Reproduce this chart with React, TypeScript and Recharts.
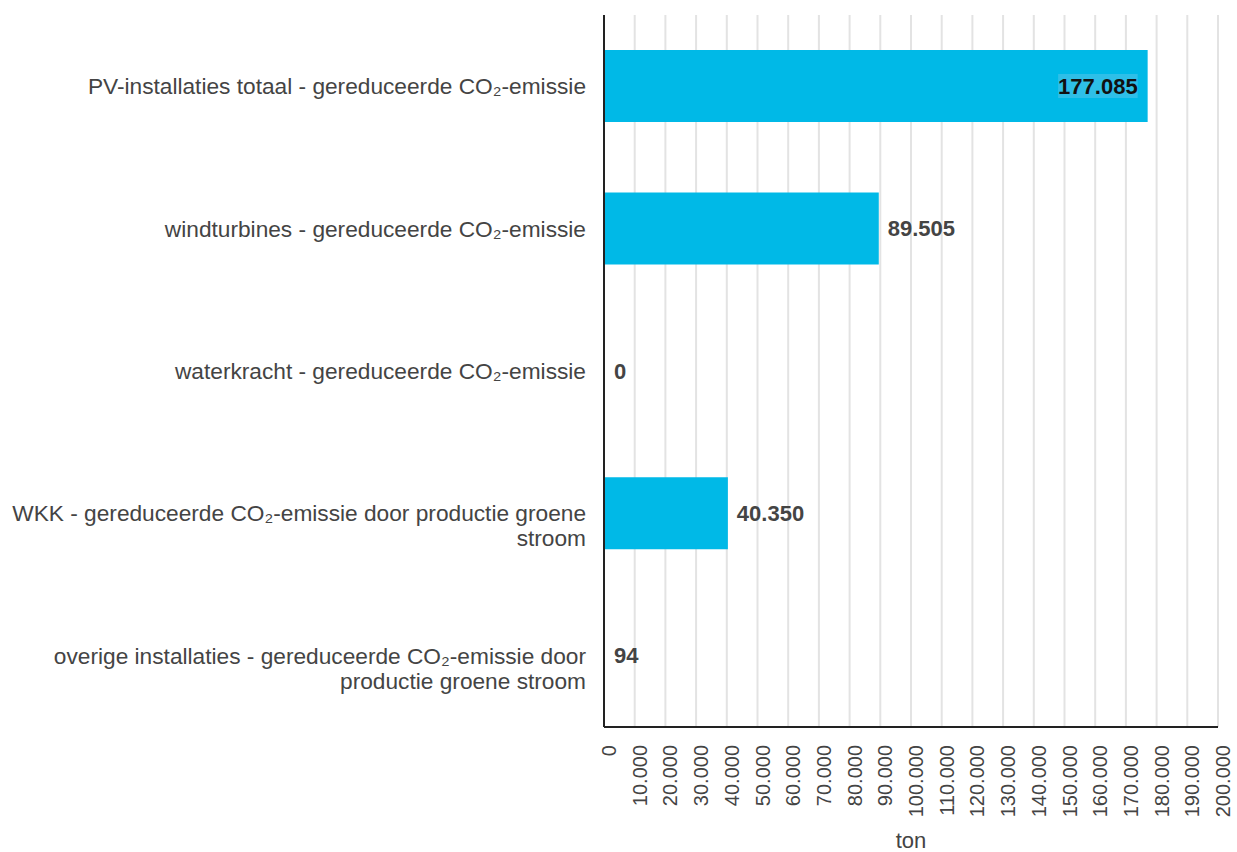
import React from 'react'
import {
  BarChart,
  Bar,
  XAxis,
  YAxis,
  CartesianGrid,
  LabelList,
} from 'recharts'

// categorieën en waarden (ton CO2)
const categories = [
  'PV-installaties totaal - gereduceerde CO₂-emissie',
  'windturbines - gereduceerde CO₂-emissie',
  'waterkracht - gereduceerde CO₂-emissie',
  'WKK - gereduceerde CO₂-emissie door productie groene stroom',
  'overige installaties - gereduceerde CO₂-emissie door productie groene stroom',
]
const values = [177085, 89505, 0, 40350, 94]
const xTicks = [
  0, 10000, 20000, 30000, 40000, 50000, 60000, 70000, 80000, 90000, 100000,
  110000, 120000, 130000, 140000, 150000, 160000, 170000, 180000, 190000, 200000,
]

const data = categories.map((name, i) => ({ name, value: values[i] }))

const FONT = '"Liberation Sans", Arial, sans-serif'
const TEXT = '#444444'
const BAR = '#00b9e7'
const CAT_SIZE = 22.7

const fmt = (v: number) => String(v).replace(/\B(?=(\d{3})+(?!\d))/g, '.')

// tekst breedte meten om labels af te breken
let ctx: CanvasRenderingContext2D | null = null
const measure = (s: string, font: string) => {
  if (!ctx) ctx = document.createElement('canvas').getContext('2d')
  if (!ctx) return s.length * 10
  ctx.font = font
  return ctx.measureText(s).width
}

const wrap = (s: string, maxW: number, font: string) => {
  const words = s.split(' ')
  const lines: string[] = []
  let cur = ''
  words.forEach((w) => {
    const test = cur ? cur + ' ' + w : w
    if (cur && measure(test, font) > maxW) {
      lines.push(cur)
      cur = w
    } else {
      cur = test
    }
  })
  if (cur) lines.push(cur)
  return lines
}

const XTick = (props: any) => {
  const { x, y, payload } = props
  return (
    <text
      transform={`translate(${x + 5}, ${y + 10}) rotate(-90)`}
      textAnchor="end"
      dy="0.35em"
      fontSize={20}
      fontFamily={FONT}
      fill={TEXT}
    >
      {fmt(payload.value)}
    </text>
  )
}

const YTick = (props: any) => {
  const { x, y, payload } = props
  const lines = wrap(payload.value, 592, `${CAT_SIZE}px ${FONT}`)
  const tx = x - 10
  return (
    <text
      x={tx}
      y={y}
      textAnchor="end"
      fontSize={CAT_SIZE}
      fontFamily={FONT}
      fill={TEXT}
    >
      {lines.map((l, i) => (
        <tspan key={i} x={tx} dy={i === 0 ? '0.35em' : 25}>
          {l}
        </tspan>
      ))}
    </text>
  )
}

const ValueLabel = (props: any) => {
  const { x, y, width, height, value } = props
  const cy = y + height / 2
  const label = fmt(value)
  if (value > 150000) {
    const tx = x + width - 10
    const w = measure(label, `bold 22px ${FONT}`)
    return (
      <g>
        <rect x={tx - w} y={cy - 12} width={w} height={24} fill="#2ebfe8" />
        <text
          x={tx}
          y={cy}
          dy="0.35em"
          textAnchor="end"
          fontSize={22}
          fontWeight="bold"
          fontFamily={FONT}
          fill="#111111"
        >
          {label}
        </text>
      </g>
    )
  }
  return (
    <text
      x={x + Math.max(width, 0) + 9}
      y={cy}
      dy="0.35em"
      textAnchor="start"
      fontSize={22}
      fontWeight="bold"
      fontFamily={FONT}
      fill={TEXT}
    >
      {label}
    </text>
  )
}

export default function App() {
  return (
    <div style={{ position: 'absolute', left: 0, top: 0 }}>
      <BarChart
        width={1237}
        height={852}
        data={data}
        layout="vertical"
        margin={{ top: 15, right: 19, bottom: 0, left: 0 }}
        barCategoryGap={0}
      >
        <CartesianGrid
          horizontal={false}
          vertical={true}
          stroke="#e3e3e3"
          strokeWidth={2}
        />
        <XAxis
          type="number"
          domain={[0, 200000]}
          ticks={xTicks}
          interval={0}
          tickLine={false}
          axisLine={{ stroke: '#222222', strokeWidth: 2 }}
          tick={<XTick />}
          height={125}
          label={{
            value: 'ton',
            position: 'insideBottom',
            offset: 0,
            dy: -4,
            fontSize: 22,
            fontFamily: FONT,
            fill: TEXT,
          }}
        />
        <YAxis
          type="category"
          dataKey="name"
          width={604}
          tickLine={false}
          axisLine={{ stroke: '#222222', strokeWidth: 2 }}
          tick={<YTick />}
          interval={0}
        />
        <Bar
          dataKey="value"
          fill={BAR}
          barSize={72}
          minPointSize={1}
          isAnimationActive={false}
        >
          <LabelList dataKey="value" content={<ValueLabel />} />
        </Bar>
      </BarChart>
    </div>
  )
}
